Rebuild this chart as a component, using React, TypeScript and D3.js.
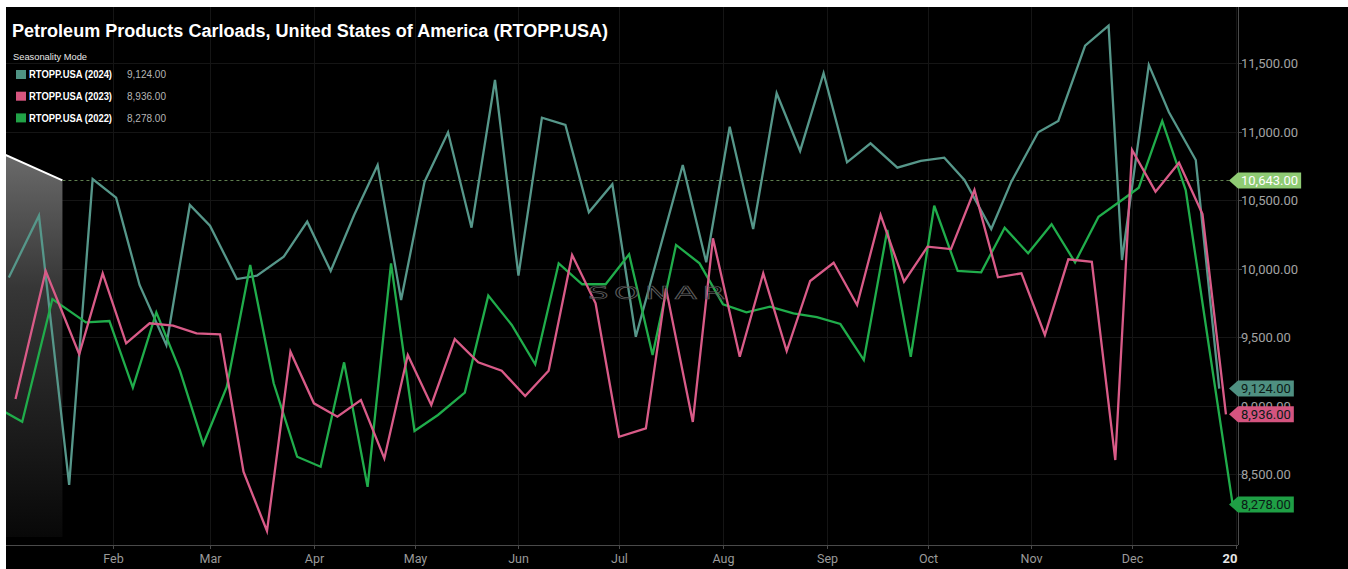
import React, { useEffect, useRef } from "react";
import * as d3 from "d3";

// weekly carloads, plotted on a 2024 calendar (seasonality mode)
const dates2024 = [
  "2024-01-01", "2024-01-10", "2024-01-19", "2024-01-26", "2024-02-02", "2024-02-09", "2024-02-17", "2024-02-24",
  "2024-03-01", "2024-03-09", "2024-03-15", "2024-03-23", "2024-03-30", "2024-04-06", "2024-04-13", "2024-04-20",
  "2024-04-27", "2024-05-04", "2024-05-11", "2024-05-18", "2024-05-25", "2024-06-01", "2024-06-08", "2024-06-15",
  "2024-06-22", "2024-06-29", "2024-07-06", "2024-07-13", "2024-07-20", "2024-07-27", "2024-08-03", "2024-08-10",
  "2024-08-17", "2024-08-24", "2024-08-31", "2024-09-07", "2024-09-14", "2024-09-22", "2024-09-29", "2024-10-06",
  "2024-10-12", "2024-10-20", "2024-10-26", "2024-11-03", "2024-11-09", "2024-11-17", "2024-11-24", "2024-11-28",
  "2024-12-06", "2024-12-12", "2024-12-20", "2024-12-27",
];
const values2024 = [
  9935, 10386, 8420, 10653, 10517, 9880, 9442, 10464, 10313, 9923, 9948, 10086, 10342, 9982, 10391, 10756,
  9770, 10634, 10994, 10298, 11376, 9948, 11101, 11048, 10410, 10615, 9502, 10130, 10756, 10045, 11035, 10288,
  11279, 10858, 11425, 10775, 10914, 10736, 10785, 10809, 10646, 10288, 10634, 10994, 11077, 11626, 11772, 10062,
  11486, 11140, 10792, 9124,
];

const dates2023 = [
  "2024-01-03", "2024-01-12", "2024-01-22", "2024-01-29", "2024-02-05", "2024-02-12", "2024-02-19", "2024-02-26",
  "2024-03-04", "2024-03-11", "2024-03-18", "2024-03-25", "2024-04-01", "2024-04-08", "2024-04-15", "2024-04-22",
  "2024-04-29", "2024-05-06", "2024-05-13", "2024-05-20", "2024-05-27", "2024-06-03", "2024-06-10", "2024-06-17",
  "2024-06-24", "2024-07-01", "2024-07-09", "2024-07-15", "2024-07-23", "2024-07-29", "2024-08-06", "2024-08-13",
  "2024-08-20", "2024-08-27", "2024-09-03", "2024-09-10", "2024-09-17", "2024-09-24", "2024-10-01", "2024-10-08",
  "2024-10-15", "2024-10-22", "2024-10-29", "2024-11-05", "2024-11-12", "2024-11-19", "2024-11-26", "2024-12-01",
  "2024-12-08", "2024-12-15", "2024-12-22", "2024-12-29",
];
const values2023 = [
  9047, 9982, 9374, 9965, 9454, 9600, 9583, 9527, 9520, 8517, 8084, 9393, 9016, 8918, 9040, 8614,
  9369, 9004, 9485, 9315, 9254, 9069, 9254, 10099, 9746, 8772, 8833, 9855, 8880, 10220, 9356, 9965,
  9398, 9909, 10042, 9734, 10391, 9904, 10159, 10142, 10573, 9936, 9965, 9515, 10067, 10049, 8602, 10865,
  10561, 10772, 10398, 8936,
];

const dates2022 = [
  "2023-12-31", "2024-01-05", "2024-01-14", "2024-01-24", "2024-01-31", "2024-02-07", "2024-02-14", "2024-02-21",
  "2024-02-28", "2024-03-06", "2024-03-13", "2024-03-20", "2024-03-27", "2024-04-03", "2024-04-10", "2024-04-17",
  "2024-04-24", "2024-05-01", "2024-05-08", "2024-05-16", "2024-05-23", "2024-05-30", "2024-06-06", "2024-06-13",
  "2024-06-20", "2024-06-27", "2024-07-04", "2024-07-11", "2024-07-18", "2024-07-25", "2024-08-01", "2024-08-08",
  "2024-08-15", "2024-08-22", "2024-08-29", "2024-09-05", "2024-09-12", "2024-09-19", "2024-09-26", "2024-10-03",
  "2024-10-10", "2024-10-17", "2024-10-24", "2024-10-31", "2024-11-07", "2024-11-14", "2024-11-21", "2024-11-28",
  "2024-12-03", "2024-12-10", "2024-12-17", "2024-12-24", "2024-12-31",
];
const values2022 = [
  8950, 8882, 9777, 9607, 9617, 9130, 9680, 9259, 8717, 9135, 10026, 9162, 8626, 8553, 9315, 8407,
  10038, 8814, 8931, 9094, 9802, 9588, 9301, 10038, 9885, 9885, 10104, 9369, 10172, 10038, 9739, 9680,
  9721, 9673, 9645, 9595, 9332, 10281, 9356, 10458, 9982, 9972, 10298, 10111, 10323, 10045, 10378, 10500,
  10590, 11077, 10573, 9420, 8278,
];

const seriesNames = ["RTOPP.USA (2024)", "RTOPP.USA (2023)", "RTOPP.USA (2022)"];
const yTicks = [8500, 9000, 9500, 10000, 10500, 11000, 11500];
const monthLabels = ["Feb", "Mar", "Apr", "May", "Jun", "Jul", "Aug", "Sep", "Oct", "Nov", "Dec", "20"];
const referenceValue = 10643;
// highlighted stretch at the left edge: [date, value] of its top edge
const highlightStart: [string, number] = ["2023-12-31", 10829];
const highlightEnd: [string, number] = ["2024-01-17", 10643];

const W = 1348;
const H = 569;
const FONT = "Roboto, 'Liberation Sans', Arial, sans-serif";
const BOLD = "'Liberation Sans', Arial, sans-serif";

export default function App() {
  const ref = useRef<SVGSVGElement>(null);

  useEffect(() => {
    const svg = d3.select(ref.current);
    svg.selectAll("*").remove();

    const left = 6, right = 1238, top = 7, bottom = 545;
    const parse = d3.timeParse("%Y-%m-%d");
    const fmt = d3.format(",.2f");

    const x = d3.scaleTime()
      .domain([new Date(2024, 0, 1), new Date(2025, 0, 1)])
      .range([8.8, 1236]);
    const y = d3.scaleLinear().domain([7982, 11916]).range([bottom, 6]);

    const series = [
      { name: seriesNames[0], color: "#56978a", swatch: "#4f9384", label: "#4f9081", dates: dates2024, values: values2024 },
      { name: seriesNames[1], color: "#d95b88", swatch: "#d6557f", label: "#d4547f", dates: dates2023, values: values2023 },
      { name: seriesNames[2], color: "#20ad4b", swatch: "#21a247", label: "#1f9f45", dates: dates2022, values: values2022 },
    ];

    const defs = svg.append("defs");
    defs.append("clipPath").attr("id", "plot-clip")
      .append("rect").attr("x", left).attr("y", top)
      .attr("width", right - left).attr("height", bottom - top);
    const grad = defs.append("linearGradient").attr("id", "shade")
      .attr("x1", 0).attr("y1", 0).attr("x2", 0).attr("y2", 1);
    grad.append("stop").attr("offset", 0).attr("stop-color", "#6a6a6a");
    grad.append("stop").attr("offset", 0.35).attr("stop-color", "#363636");
    grad.append("stop").attr("offset", 1).attr("stop-color", "#080808");

    svg.append("rect").attr("width", W).attr("height", H).attr("fill", "#fff");
    svg.append("rect").attr("x", 6).attr("y", 7).attr("width", W - 6).attr("height", H - 7).attr("fill", "#000");

    const monthTicks = d3.timeMonth.range(new Date(2024, 1, 1), new Date(2025, 0, 2));

    // faint grid
    const grid = svg.append("g").attr("stroke", "#151515").attr("stroke-width", 1);
    grid.selectAll("line.v").data(monthTicks).enter().append("line")
      .attr("x1", (d) => Math.round(x(d)) + 0.5).attr("x2", (d) => Math.round(x(d)) + 0.5)
      .attr("y1", top).attr("y2", bottom);
    grid.selectAll("line.h").data(yTicks).enter().append("line")
      .attr("x1", left).attr("x2", right)
      .attr("y1", (d) => Math.round(y(d)) + 0.5).attr("y2", (d) => Math.round(y(d)) + 0.5);

    const plot = svg.append("g").attr("clip-path", "url(#plot-clip)");

    // highlighted region at the start of the year
    const hx0 = x(parse(highlightStart[0])!);
    const hx1 = x(parse(highlightEnd[0])!);
    const hy0 = y(highlightStart[1]);
    const hy1 = y(highlightEnd[1]);
    plot.append("path")
      .attr("d", `M${hx0},${hy0}L${hx1},${hy1}L${hx1},${bottom - 8}L${hx0},${bottom - 8}Z`)
      .attr("fill", "url(#shade)");
    plot.append("line")
      .attr("x1", hx0).attr("y1", hy0).attr("x2", hx1).attr("y2", hy1)
      .attr("stroke", "#fff").attr("stroke-width", 2);

    // watermark (wide outlined letters)
    const sx = 1.8;
    svg.append("text")
      .attr("transform", `scale(${sx},1)`)
      .attr("x", 588 / sx).attr("y", 299)
      .attr("textLength", 137 / sx).attr("lengthAdjust", "spacing")
      .attr("font-family", "'DejaVu Sans', sans-serif").attr("font-size", 18)
      .attr("fill", "none").attr("stroke", "#5a5a5a").attr("stroke-width", 0.7)
      .text("SONAR");

    // reference line
    plot.append("line")
      .attr("x1", hx1).attr("x2", right)
      .attr("y1", Math.round(y(referenceValue)) + 0.5).attr("y2", Math.round(y(referenceValue)) + 0.5)
      .attr("stroke", "#5f7f4f").attr("stroke-width", 1).attr("stroke-dasharray", "3,3");

    const line = d3.line<[Date, number]>().x((d) => x(d[0])).y((d) => y(d[1]));
    [series[0], series[2], series[1]].forEach((s) => {
      const pts: [Date, number][] = s.dates.map((d, i) => [parse(d)!, s.values[i]]);
      plot.append("path")
        .attr("d", line(pts)!)
        .attr("fill", "none").attr("stroke", s.color).attr("stroke-width", 2.3);
    });

    // axes
    svg.append("line").attr("x1", left).attr("x2", right).attr("y1", bottom + 0.5).attr("y2", bottom + 0.5)
      .attr("stroke", "#4a4a4a");
    svg.append("line").attr("x1", right + 0.5).attr("x2", right + 0.5).attr("y1", top).attr("y2", bottom)
      .attr("stroke", "#4a4a4a");

    const xt = svg.append("g");
    monthTicks.forEach((d, i) => {
      const px = Math.round(x(d)) + 0.5;
      xt.append("line").attr("x1", px).attr("x2", px).attr("y1", bottom).attr("y2", bottom + 4).attr("stroke", "#4a4a4a");
      const last = i === monthTicks.length - 1;
      xt.append("text")
        .attr("x", last ? px + 1 : px).attr("y", 563)
        .attr("text-anchor", last ? "end" : "middle")
        .attr("font-family", FONT).attr("font-size", last ? 13 : 12.5)
        .attr("font-weight", last ? "bold" : "normal")
        .attr("fill", last ? "#e6e6e6" : "#9a9a9a")
        .text(monthLabels[i]);
    });

    const yt = svg.append("g");
    yTicks.forEach((v) => {
      const py = Math.round(y(v)) + 0.5;
      yt.append("line").attr("x1", right).attr("x2", right + 4).attr("y1", py).attr("y2", py).attr("stroke", "#4a4a4a");
      yt.append("text")
        .attr("x", right + 3).attr("y", py).attr("dy", "0.35em")
        .attr("font-family", FONT).attr("font-size", 13).attr("fill", "#a3a3a3")
        .text(fmt(v));
    });

    // value flags on the right axis
    const flags = [
      { value: referenceValue, bg: "#8fcb74", fg: "#ffffff" },
      ...series.map((s) => ({ value: s.values[s.values.length - 1], bg: s.label, fg: "#0b1a16" })),
    ];
    flags.forEach((f) => {
      const g = svg.append("g").attr("transform", `translate(${right},${y(f.value)})`);
      const path = g.append("path").attr("fill", f.bg);
      const t = g.append("text")
        .attr("x", 3).attr("dy", "0.35em")
        .attr("font-family", FONT).attr("font-size", 13).attr("fill", f.fg)
        .text(fmt(f.value));
      const w = (t.node() as SVGTextElement).getComputedTextLength() + 6;
      path.attr("d", `M-9,0L0,-8L${w},-8L${w},8L0,8Z`);
    });

    // title and legend
    svg.append("text")
      .attr("x", 12).attr("y", 37)
      .attr("font-family", BOLD).attr("font-weight", "bold").attr("font-size", 18)
      .attr("textLength", 596).attr("lengthAdjust", "spacingAndGlyphs")
      .attr("fill", "#fff")
      .text("Petroleum Products Carloads, United States of America (RTOPP.USA)");
    svg.append("text")
      .attr("x", 13).attr("y", 60)
      .attr("font-family", BOLD).attr("font-size", 9.5)
      .attr("textLength", 74).attr("lengthAdjust", "spacingAndGlyphs")
      .attr("fill", "#e8e8e8").text("Seasonality Mode");

    series.forEach((s, i) => {
      const cy = 74.5 + i * 21.7;
      svg.append("rect").attr("x", 16).attr("y", cy - 4.5).attr("width", 10).attr("height", 9).attr("fill", s.swatch);
      svg.append("text")
        .attr("x", 29).attr("y", cy + 3.6)
        .attr("font-family", BOLD).attr("font-weight", "bold").attr("font-size", 10)
        .attr("textLength", 83).attr("lengthAdjust", "spacingAndGlyphs")
        .attr("fill", "#fff").text(s.name);
      svg.append("text")
        .attr("x", 127).attr("y", cy + 3.6)
        .attr("font-family", BOLD).attr("font-size", 10)
        .attr("textLength", 39).attr("lengthAdjust", "spacingAndGlyphs")
        .attr("fill", "#b5b5b5").text(fmt(s.values[s.values.length - 1]));
    });
  }, []);

  return (
    <svg
      ref={ref}
      width={W}
      height={H}
      style={{ position: "absolute", left: 0, top: 0, display: "block" }}
    />
  );
}
